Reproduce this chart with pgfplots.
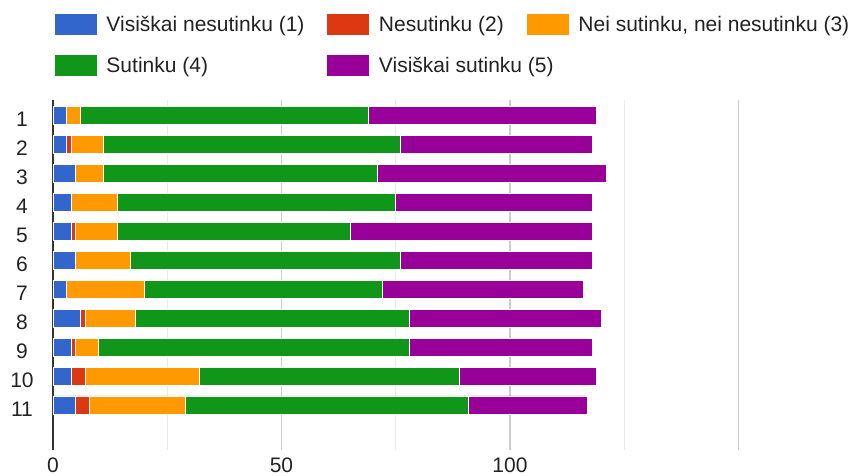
\documentclass[border=0pt]{standalone}
\usepackage{fontspec}
\setmainfont{Liberation Sans}
\usepackage{pgfplots}
\usepackage{pgfplotstable}
\pgfplotsset{compat=1.18}
\definecolor{cBlue}{HTML}{3366CC}
\definecolor{cRed}{HTML}{DC3912}
\definecolor{cOrange}{HTML}{FF9900}
\definecolor{cGreen}{HTML}{109618}
\definecolor{cPurple}{HTML}{990099}
\definecolor{gridMajor}{HTML}{CCCCCC}
\definecolor{gridMinor}{HTML}{EBEBEB}
\definecolor{axisC}{HTML}{333333}
\definecolor{txt}{HTML}{222222}

\pgfplotstableread{
q b r o g p
1 3 0 3 63 50
2 3 1 7 65 42
3 5 0 6 60 50
4 4 0 10 61 43
5 4 1 9 51 53
6 5 0 12 59 42
7 3 0 17 52 44
8 6 1 11 60 42
9 4 1 5 68 40
10 4 3 25 57 30
11 5 3 21 62 26
}\datatable

\begin{document}
\begin{tikzpicture}
\begin{axis}[
  at={(53pt,26pt)}, anchor=south west,
  scale only axis, width=685.5pt, height=350pt,
  xbar stacked, bar width=18pt,
  xmin=0, xmax=150, ymin=0.476, ymax=12.553, y dir=reverse,
  ytick={1,2,3,4,5,6,7,8,9,10,11},
  xtick={0,50,100,150}, xticklabels={0,50,100,{}},
  minor xtick={25,75,125},
  xmajorgrids, xminorgrids,
  major grid style={draw=gridMajor, line width=1.2pt},
  minor grid style={draw=gridMinor, line width=1.2pt},
  major tick length=0pt, minor tick length=0pt,
  separate axis lines,
  axis x line*=bottom, x axis line style={draw=none},
  axis y line*=left, y axis line style={draw=axisC, line width=1.5pt},
  /pgf/number format/assume math mode=true,
  tick label style={font=\fontsize{21}{25}\selectfont, text=txt},
  yticklabel style={anchor=center, xshift=-31pt, yshift=-4pt},
  xticklabel style={yshift=-4.5pt},
  legend columns=3, legend cell align=left,
  legend style={at={(axis description cs:0.0029,1.2457)}, anchor=north west,
    draw=none, fill=none, inner sep=0pt, outer sep=0pt,
    font=\fontsize{21}{25}\selectfont, text=txt,
    nodes={inner sep=0pt},
    /tikz/every even column/.append style={column sep=0pt},
    /tikz/every odd column/.append style={column sep=9.5pt},
    row sep=20pt},
  legend image code/.code={\fill[#1,draw=none] (0pt,-10.5pt) rectangle (42pt,10.5pt);},
]
\addplot[fill=cBlue, draw=white, line width=0.8pt] table[x=b,y=q]{\datatable};
\addlegendentry{\makebox[221pt][l]{Visiškai nesutinku (1)}}
\addplot[fill=cRed, draw=white, line width=0.8pt] table[x=r,y=q]{\datatable};
\addlegendentry{\makebox[148pt][l]{Nesutinku (2)}}
\addplot[fill=cOrange, draw=white, line width=0.8pt] table[x=o,y=q]{\datatable};
\addlegendentry{Nei sutinku, nei nesutinku (3)}
\addplot[fill=cGreen, draw=white, line width=0.8pt] table[x=g,y=q]{\datatable};
\addlegendentry{\makebox[221pt][l]{Sutinku (4)}}
\addplot[fill=cPurple, draw=white, line width=0.8pt] table[x=p,y=q]{\datatable};
\addlegendentry{\makebox[148pt][l]{Visiškai sutinku (5)}}
\end{axis}
\pgfresetboundingbox
\path[use as bounding box] (0,0) rectangle (854pt,476pt);
\end{tikzpicture}
\end{document}
